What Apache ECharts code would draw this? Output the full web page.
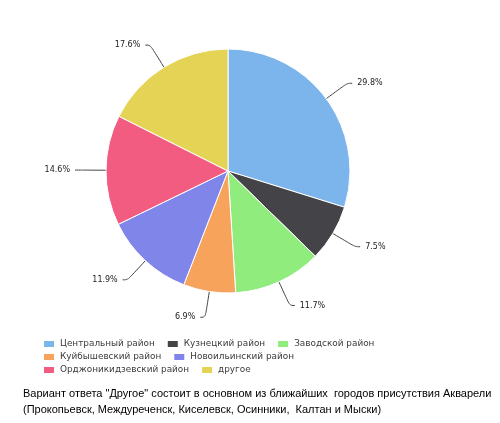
<!DOCTYPE html>
<html><head><meta charset="utf-8">
<script src="https://cdn.jsdelivr.net/npm/echarts@6/dist/echarts.min.js"></script>
<style>html,body{margin:0;padding:0;background:#fff}#c{width:500px;height:423px}</style>
</head><body><div id="c"></div>
<script>
var categories = ['Центральный район','Кузнецкий район','Заводской район','Куйбышевский район','Новоильинский район','Орджоникидзевский район','другое'];
var values = [29.8, 7.5, 11.7, 6.9, 11.9, 14.6, 17.6];
var colors = ['#7cb5ec','#434348','#90ed7d','#f7a35c','#8085e9','#f15c80','#e4d354'];
var legendRows = [[0,1,2],[3,4],[5,6]];
var noteLines = ['Вариант ответа "Другое" состоит в основном из ближайших  городов присутствия Акварели','(Прокопьевск, Междуреченск, Киселевск, Осинники,  Калтан и Мыски)'];

var chart = echarts.init(document.getElementById('c'), null, {renderer:'canvas'});
var legendTops = [339, 352, 365];
var legends = legendRows.map(function(r, i){
  return {
    data: r.map(function(k){return categories[k];}),
    left: 42, top: legendTops[i], orient:'horizontal',
    itemWidth: 12, itemHeight: 8, itemGap: 11, padding: 0,
    icon: 'rect',
    textStyle: {fontFamily:'DejaVu Sans', fontSize: 8.9, color:'#3a3a3a', padding:[0,0,0,0]},
    selectedMode: false
  };
});
chart.setOption({
  animation: false,
  color: colors,
  legend: legends,
  graphic: noteLines.map(function(t, i){
    return {type:'text', left: 23, top: 388 + i*16, style:{text: t, font: '11px "Liberation Sans", Arial', fill:'#000'}};
  }),
  series: [{
    type: 'pie',
    center: [228, 171],
    radius: [0, 122],
    startAngle: 90,
    clockwise: true,
    data: values.map(function(v, i){return {name: categories[i], value: v};}),
    itemStyle: {borderColor:'#fff', borderWidth:1},
    label: {
      show: true,
      formatter: function(p){return p.value.toFixed(1) + '%';},
      fontFamily: 'DejaVu Sans', fontSize: 8, color: '#222'
    },
    labelLine: {show: true, length: 26, length2: 5, smooth: 0.4, lineStyle:{color:'#444', width:1}},
    emphasis: {disabled: true}
  }]
});
</script></body></html>
